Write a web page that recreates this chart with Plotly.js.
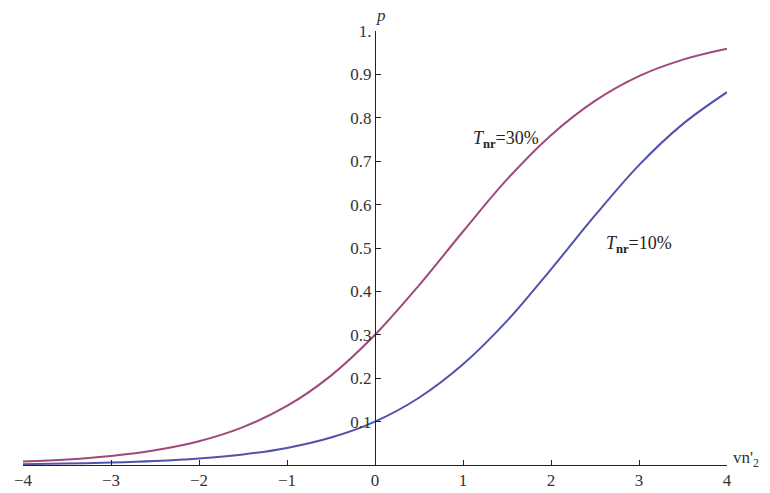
<!DOCTYPE html>
<html>
<head>
<meta charset="utf-8">
<script src="https://cdn.plot.ly/plotly-3.0.1.min.js"></script>
<style>html,body{margin:0;padding:0;background:#fff;}#chart{width:770px;height:493px;}</style>
</head>
<body>
<div id="chart"></div>
<script>
var xValues = [-4, -3.5, -3, -2.5, -2, -1.5, -1, -0.5, 0, 0.5, 1, 1.5, 2, 2.5, 3, 3.5, 4];
var p30 = [0.0078, 0.0128, 0.0209, 0.034, 0.0548, 0.0873, 0.136, 0.206, 0.3, 0.414, 0.538, 0.658, 0.760, 0.839, 0.896, 0.934, 0.959];
var p10 = [0.0020, 0.0033, 0.0055, 0.0090, 0.0148, 0.0242, 0.0393, 0.0632, 0.1, 0.155, 0.232, 0.332, 0.451, 0.575, 0.691, 0.786, 0.859];
var xTickVals = [-4, -3, -2, -1, 0, 1, 2, 3, 4];
var xTickText = ["\u22124", "\u22123", "\u22122", "\u22121", "0", "1", "2", "3", "4"];
var yTickVals = [0.1, 0.2, 0.3, 0.4, 0.5, 0.6, 0.7, 0.8, 0.9, 1];
var yTickText = ["0.1", "0.2", "0.3", "0.4", "0.5", "0.6", "0.7", "0.8", "0.9", "1."];

var fontFam = "Liberation Serif, Times New Roman, serif";
var traces = [
  {x: xValues, y: p30, mode: "lines", line: {color: "#a0487e", width: 2, shape: "spline"}, hoverinfo: "none"},
  {x: xValues, y: p10, mode: "lines", line: {color: "#5252aa", width: 2, shape: "spline"}, hoverinfo: "none"}
];
var layout = {
  width: 770, height: 493,
  margin: {l: 23, r: 43, t: 31, b: 28},
  paper_bgcolor: "#fff", plot_bgcolor: "#fff",
  showlegend: false,
  font: {family: fontFam, size: 17, color: "#333"},
  xaxis: {range: [-4, 4], tickvals: xTickVals, ticktext: xTickText, ticks: "inside", ticklen: 5,
          tickcolor: "#222", showline: true, linecolor: "#222", linewidth: 1, showgrid: false,
          zeroline: false, tickfont: {family: fontFam, size: 17, color: "#333"}},
  yaxis: {range: [0, 1], tickvals: yTickVals, ticktext: yTickText, ticks: "inside", ticklen: 5,
          tickcolor: "#222", showline: true, linecolor: "#222", linewidth: 1, showgrid: false,
          zeroline: false, anchor: "free", position: 0.5, side: "left",
          tickfont: {family: fontFam, size: 17, color: "#333"}},
  annotations: [
    {x: 0, y: 1, xref: "x", yref: "paper", text: "<i>p</i>", showarrow: false, xanchor: "left", yanchor: "bottom", xshift: -1, yshift: 4, font: {family: fontFam, size: 17, color: "#333"}},
    {x: 1, y: 0, xref: "paper", yref: "paper", text: "vn'<sub>2</sub>", showarrow: false, xanchor: "left", yanchor: "middle", xshift: 4, yshift: 6, font: {family: fontFam, size: 17, color: "#333"}},
    {x: 1.49, y: 0.749, xref: "x", yref: "y", text: "<i>T</i><sub><b>nr</b></sub>=30%", showarrow: false, xanchor: "center", yanchor: "middle", font: {family: fontFam, size: 18, color: "#222"}},
    {x: 3.0, y: 0.507, xref: "x", yref: "y", text: "<i>T</i><sub><b>nr</b></sub>=10%", showarrow: false, xanchor: "center", yanchor: "middle", font: {family: fontFam, size: 18, color: "#222"}}
  ]
};
Plotly.newPlot("chart", traces, layout, {displayModeBar: false, staticPlot: true});
</script>
</body>
</html>
